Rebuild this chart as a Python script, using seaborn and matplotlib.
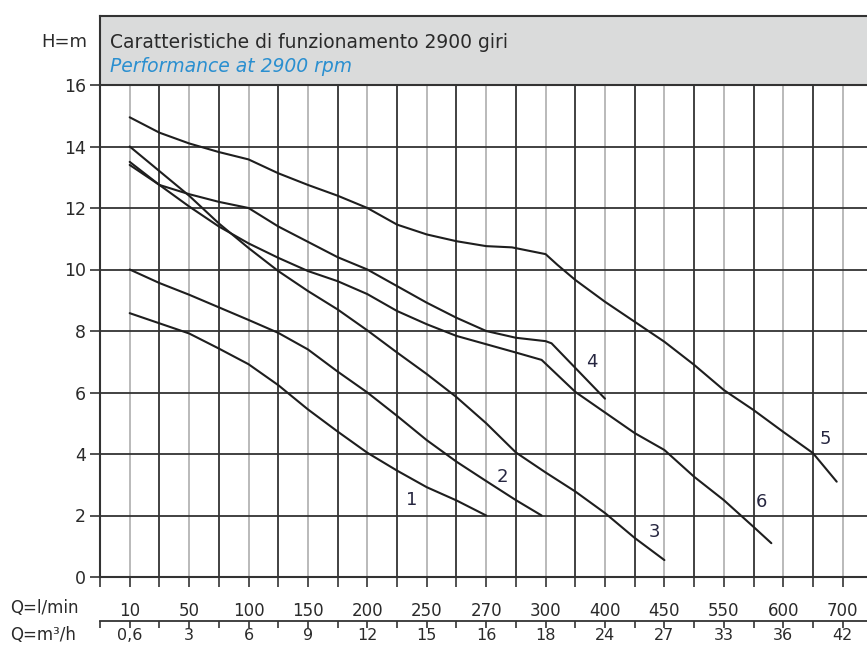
import numpy as np
import pandas as pd
import seaborn as sns
from matplotlib import pyplot as plt

# axis labels (the flow axis is a stretched, non linear scale)
q_lmin = [10, 50, 100, 150, 200, 250, 270, 300, 400, 450, 550, 600, 700]
q_m3h = ['0,6', '3', '6', '9', '12', '15', '16', '18', '24', '27', '33', '36', '42']
h_ticks = [0, 2, 4, 6, 8, 10, 12, 14, 16]

# curves: flow in l/min, head in m
q1 = [10, 30, 50, 75, 100, 125, 150, 175, 200, 225, 250, 260, 270]
h1 = [8.58, 8.25, 7.92, 7.43, 6.92, 6.24, 5.45, 4.73, 4.04, 3.46, 2.92, 2.49, 2.0]
q2 = [10, 30, 50, 75, 100, 125, 150, 175, 200, 225, 250, 260, 270, 285, 298]
h2 = [10.0, 9.56, 9.18, 8.77, 8.36, 7.94, 7.4, 6.68, 6.0, 5.24, 4.45, 3.75, 3.12, 2.5, 2.0]
q3 = [10, 30, 50, 75, 100, 125, 150, 175, 200, 225, 250, 260, 270, 285, 300, 350, 400, 425, 450]
h3 = [14.0, 13.2, 12.4, 11.5, 10.7, 9.95, 9.3, 8.7, 8.02, 7.3, 6.6, 5.85, 5.0, 4.05, 3.4, 2.78, 2.08, 1.27, 0.55]
q4 = [10, 30, 50, 75, 100, 125, 150, 175, 200, 225, 250, 260, 270, 285, 300, 310, 350, 400]
h4 = [13.5, 12.75, 12.45, 12.2, 12.0, 11.4, 10.9, 10.4, 10.0, 9.46, 8.92, 8.43, 8.0, 7.78, 7.67, 7.6, 6.8, 5.8]
q5 = [10, 30, 50, 75, 100, 125, 150, 175, 200, 225, 250, 260, 270, 283, 300, 320, 350, 400, 425, 450, 500, 550, 575, 600, 650, 690]
h5 = [14.95, 14.45, 14.1, 13.82, 13.58, 13.13, 12.75, 12.4, 12.0, 11.46, 11.14, 10.92, 10.76, 10.72, 10.5, 10.15, 9.66, 8.95, 8.3, 7.65, 6.9, 6.08, 5.43, 4.72, 4.03, 3.1]
q6 = [10, 30, 50, 75, 100, 125, 150, 175, 200, 225, 250, 260, 270, 285, 298, 350, 400, 425, 450, 500, 550, 575, 590]
h6 = [13.4, 12.75, 12.05, 11.4, 10.85, 10.38, 9.95, 9.62, 9.2, 8.65, 8.22, 7.84, 7.57, 7.3, 7.06, 6.02, 5.35, 4.68, 4.13, 3.26, 2.5, 1.63, 1.1]

curve_names = ['1', '2', '3', '4', '5', '6']
curve_q = [q1, q2, q3, q4, q5, q6]
curve_h = [h1, h2, h3, h4, h5, h6]
name_q = [237, 278, 442, 378, 670, 582]
name_h = [2.5, 3.25, 1.45, 7.0, 4.5, 2.45]

df = pd.concat([pd.DataFrame({'q': q, 'h': h, 'curve': n})
                for q, h, n in zip(curve_q, curve_h, curve_names)])

# piecewise linear scale: each labelled flow gets one grid column
pos = np.arange(len(q_lmin), dtype=float)
q_ext = np.r_[q_lmin[0] - 40 * 20, q_lmin, q_lmin[-1] + 100 * 20]
pos_ext = np.r_[-20, pos, pos[-1] + 20]


def fwd(q):
    return np.interp(q, q_ext, pos_ext)


def inv(p):
    return np.interp(p, pos_ext, q_ext)


sns.set_style('white')
plt.rcParams['font.family'] = ['DejaVu Sans']
dark = '#333333'
txt = '#2a2a2a'

W, H = 867, 648
fig = plt.figure(figsize=(W / 100, H / 100), dpi=100)
ax = fig.add_axes([100 / W, 1 - 577 / H, 1 - 100 / W, (577 - 85) / H])
ax.set_xscale('function', functions=(fwd, inv))

sns.lineplot(data=df, x='q', y='h', hue='curve', palette=['#1e1e1e'] * 6,
             estimator=None, sort=False, linewidth=1.5, legend=False, ax=ax)

for n, xq, yh in zip(curve_names, name_q, name_h):
    ax.text(xq, yh, n, fontsize=13, color='#262640', ha='center', va='center')

xmin, xmax = inv(-0.5), inv(12.41)
ax.set_xlim(xmin, xmax)
ax.set_ylim(0, 16)

half = inv(np.r_[-0.5, pos[:-1] + 0.5])
ax.set_xticks(q_lmin)
ax.set_xticklabels([str(v) for v in q_lmin])
ax.set_xticks(half, minor=True)
ax.set_yticks(h_ticks)

ax.grid(which='major', axis='x', color='#b4b4b4', linewidth=1.3)
ax.grid(which='minor', axis='x', color=dark, linewidth=1.3)
ax.grid(which='major', axis='y', color=dark, linewidth=1.3)
ax.set_axisbelow(True)

ax.tick_params(axis='x', which='both', direction='out', length=7, width=1.2,
               color=dark, bottom=True)
ax.tick_params(axis='x', which='major', pad=11, labelsize=12, labelcolor=txt)
ax.tick_params(axis='y', direction='out', length=7, width=1.2, color=dark,
               left=True, pad=3, labelsize=12.5, labelcolor=txt)
for s in ['top', 'right']:
    ax.spines[s].set_visible(False)
for s in ['left', 'bottom']:
    ax.spines[s].set_color(dark)
    ax.spines[s].set_linewidth(1.5)
ax.set_xlabel('')
ax.set_ylabel('')

# second flow axis in m3/h
ax2 = ax.twiny()
ax2.set_xscale('function', functions=(fwd, inv))
ax2.set_xlim(xmin, xmax)
ax2.xaxis.set_ticks_position('bottom')
ax2.spines['bottom'].set_position(('axes', -(621 - 577) / (577 - 85)))
for s in ['top', 'right', 'left']:
    ax2.spines[s].set_visible(False)
ax2.spines['bottom'].set_color(dark)
ax2.spines['bottom'].set_linewidth(1.3)
ax2.set_xticks(q_lmin)
ax2.set_xticklabels(q_m3h)
ax2.set_xticks(half, minor=True)
ax2.tick_params(axis='x', which='both', direction='out', length=5, width=1.2,
                color=dark, pad=0, labelsize=11.5, labelcolor=txt)

# header band
hax = fig.add_axes([100 / W, 1 - 85 / H, 1 - 100 / W, (85 - 16) / H])
hax.set_facecolor('#dadbdb')
hax.set_xticks([])
hax.set_yticks([])
hax.spines['right'].set_visible(False)
for s in ['top', 'left', 'bottom']:
    hax.spines[s].set_color(dark)
    hax.spines[s].set_linewidth(1.5)
hax.text(0.013, (85 - 42) / 69, 'Caratteristiche di funzionamento 2900 giri',
         fontsize=13.5, color=txt, va='center', ha='left', transform=hax.transAxes)
hax.text(0.013, (85 - 67) / 69, 'Performance at 2900 rpm', fontsize=13.5,
         color='#2a8fd0', style='italic', va='center', ha='left',
         transform=hax.transAxes)

fig.text(87 / W, 1 - 42 / H, 'H=m', fontsize=13, color=txt, ha='right', va='center')
fig.text(10 / W, 1 - 608 / H, 'Q=l/min', fontsize=12, color=txt, ha='left', va='center')
fig.text(10 / W, 1 - 635 / H, 'Q=m³/h', fontsize=12, color=txt, ha='left', va='center')

plt.savefig('out.png', dpi=100)
